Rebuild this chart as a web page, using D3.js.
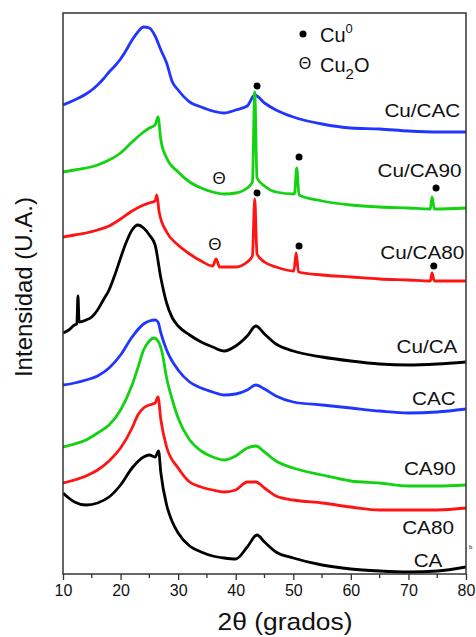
<!DOCTYPE html>
<html lang="es">
<head>
<meta charset="UTF-8">
<title>DRX</title>
<script src="https://cdn.jsdelivr.net/npm/d3@7/dist/d3.min.js"></script>
<style>
  body { margin: 0; background: #fff; }
  text { font-family: "Liberation Sans", Arial, sans-serif; fill: #111; }
</style>
</head>
<body>
<script>
// intensidades (2theta, I en u.a. ya desplazadas)
const cuCAC = [[10,469],[12,474],[14,480],[15,484],[16,489],[17,495],[18,502],[19,508],[20,515],[21,524],[22,534],[23,542],[24,547],[25,546],[26,538],[27,524],[28,511],[29,492],[30,484],[32,472],[34,467],[36,463],[38,461],[40,464],[42,468],[43.3,479],[45,471],[47,464],[50,457],[55,450],[60,446],[65,445],[70,443],[75,442],[80,442]];
const cuCA90 = [[10,402],[12,404],[14,406],[16,409],[18,414],[20,421],[22,432],[24,442],[25,446],[26,449],[26.5,457],[27,434],[28,416],[30,402],[32,392],[34,386],[36,382],[38,380],[40,381],[42,386],[42.9,392],[43.3,482],[43.7,396],[45,388],[47,382],[50.2,380],[50.6,406],[51,379],[55,373],[60,369],[65,367],[70,366],[73.8,365],[74.1,377],[74.5,365],[80,366]];
const cuCA80 = [[10,337],[12,339],[14,341],[16,344],[18,348],[20,355],[22,363],[24,369],[25,371],[26,373],[26.3,379],[26.7,362],[28,342],[30,329],[32,320],[34,313],[36,308],[36.6,315],[37.2,307],[38,307],[40,307],[42,312],[42.9,318],[43.3,375],[43.7,320],[45,312],[47,307],[50.1,303],[50.5,321],[50.9,302],[55,299],[60,297],[65,295],[70,294],[73.8,293],[74.1,301],[74.5,293],[80,293]];
const cuCA = [[10,241],[11,244],[12,249],[12.4,250],[12.6,278],[12.8,252],[14,254],[15,257],[16,264],[17,274],[18,284],[19,299],[20,316],[21,332],[22,344],[23,349],[24,346],[25,339],[26,329],[27,296],[28,271],[29,256],[30,248],[32,239],[34,232],[36,227],[38,223],[40,228],[42,238],[43.5,248],[45,240],[47,230],[50,223],[55,217],[60,213],[65,210],[70,209],[75,210],[80,212]];
const cac = [[10,189],[12,191],[14,194],[16,198],[18,206],[20,219],[22,237],[24,250],[25,253],[26,254],[26.5,252],[27,241],[28,224],[30,204],[32,192],[34,186],[36,182],[38,179],[40,180],[42,184],[43.5,189],[45,185],[47,178],[50,172],[55,169],[60,166],[65,163],[70,161],[75,162],[80,165]];
const ca90 = [[10,127],[12,130],[14,134],[16,141],[18,149],[20,164],[22,189],[23,206],[24,224],[25,233],[25.8,236],[26.5,233],[27.2,222],[28,196],[29,174],[30,156],[32,134],[34,123],[36,117],[38,114],[40,118],[42,126],[43.5,128],[45,122],[47,113],[50,106],[55,99],[60,93],[65,91],[70,88],[75,88],[80,89]];
const ca80 = [[10,91],[12,94],[14,98],[16,104],[18,113],[20,126],[22,146],[23,159],[24,166],[25,169],[26,171],[26.5,177],[27,154],[28,127],[30,106],[32,92],[34,87],[36,84],[38,82],[40,84],[42,92],[43.5,92],[45,86],[47,78],[50,74],[55,71],[60,67],[65,64],[70,64],[75,64],[80,66]];
const ca = [[10,81],[11,76],[12,72],[14,69],[16,71],[18,77],[20,89],[22,106],[24,117],[25,119],[26,117],[26.6,123],[27,101],[28,69],[29,52],[30,41],[32,28],[34,22],[36,18],[38,16],[40,15],[42,27],[43.7,39],[45,32],[47,22],[50,16],[55,9],[60,5],[65,3],[70,2],[75,3],[80,7]];

const names = ["Cu/CAC", "Cu/CA90", "Cu/CA80", "Cu/CA", "CAC", "CA90", "CA80", "CA"];
const colors = ["#2036ff", "#12d212", "#ff1414", "#000000", "#2036ff", "#12d212", "#ff1414", "#000000"];
const series = [cuCAC, cuCA90, cuCA80, cuCA, cac, ca90, ca80, ca];
// posicion de las etiquetas (2theta del borde derecho, I de la linea base)
const labelPos = [[79, 457], [79.2, 397], [79.7, 315], [78.5, 221], [78.2, 169], [78.2, 99], [77.9, 40], [75.9, 7]];

const cuDots = [[43.7, 488], [51.0, 417], [74.8, 386], [43.7, 381], [51.0, 328], [74.4, 308]];
const cu2oMarks = [[37.1, 396], [36.4, 330]];
const xTicks = [10, 20, 30, 40, 50, 60, 70, 80];
const xMinor = [15, 25, 35, 45, 55, 65, 75];

const W = 476, H = 637;
const m = {left: 63, right: 466, top: 13, bottom: 574};

const x = d3.scaleLinear().domain([10, 80]).range([m.left, m.right]);
const y = d3.scaleLinear().domain([0, 561]).range([m.bottom, m.top]);

const svg = d3.select("body").append("svg")
    .attr("width", W)
    .attr("height", H);

const line = d3.line()
    .x(d => x(d[0]))
    .y(d => y(d[1]))
    .curve(d3.curveMonotoneX);

svg.append("clipPath").attr("id", "clip")
    .append("rect")
    .attr("x", m.left).attr("y", m.top)
    .attr("width", m.right - m.left).attr("height", m.bottom - m.top);

svg.append("g")
    .attr("clip-path", "url(#clip)")
    .selectAll("path")
    .data(series)
    .join("path")
    .attr("fill", "none")
    .attr("stroke", (d, i) => colors[i])
    .attr("stroke-width", 2.8)
    .attr("stroke-linejoin", "round")
    .attr("d", line);

// marco
svg.append("rect")
    .attr("x", m.left).attr("y", m.top)
    .attr("width", m.right - m.left).attr("height", m.bottom - m.top)
    .attr("fill", "none")
    .attr("stroke", "#333")
    .attr("stroke-width", 1.5);

// eje x
const gx = svg.append("g").attr("transform", `translate(0,${m.bottom})`);
gx.call(d3.axisBottom(x).tickValues(xTicks).tickSize(6).tickFormat(d3.format("d")));
gx.select(".domain").remove();
gx.selectAll(".tick line").attr("stroke", "#333").attr("stroke-width", 1.3);
gx.selectAll(".tick text")
    .attr("y", 11)
    .style("font-family", "Liberation Sans, Arial, sans-serif")
    .style("font-size", "16px")
    .attr("fill", "#222");
gx.selectAll(".minor")
    .data(xMinor)
    .join("line")
    .attr("class", "minor")
    .attr("x1", d => x(d)).attr("x2", d => x(d))
    .attr("y1", 0).attr("y2", 4)
    .attr("stroke", "#333")
    .attr("stroke-width", 1.3);

svg.append("text")
    .attr("transform", "translate(285,630) scale(1.1,1)")
    .attr("text-anchor", "middle")
    .style("font-size", "24px")
    .text("2θ (grados)");

svg.append("text")
    .attr("transform", "translate(32,287) rotate(-90)")
    .attr("text-anchor", "middle")
    .style("font-size", "24px")
    .text("Intensidad (U.A.)");

// etiquetas de las curvas
svg.append("g")
    .selectAll("text")
    .data(names)
    .join("text")
    .attr("transform", (d, i) => `translate(${x(labelPos[i][0])},${y(labelPos[i][1])}) scale(1.15,1)`)
    .attr("text-anchor", "end")
    .style("font-size", "18px")
    .text(d => d);

// picos Cu0
svg.append("g")
    .selectAll("circle")
    .data(cuDots)
    .join("circle")
    .attr("cx", d => x(d[0]))
    .attr("cy", d => y(d[1]))
    .attr("r", 3.5)
    .attr("fill", "#000");

svg.append("g")
    .selectAll("text")
    .data(cu2oMarks)
    .join("text")
    .attr("x", d => x(d[0]))
    .attr("y", d => y(d[1]))
    .attr("dy", "0.36em")
    .attr("text-anchor", "middle")
    .style("font-size", "17px")
    .text("Θ");

// leyenda
const lg = svg.append("g");
lg.append("circle").attr("cx", 303).attr("cy", 34).attr("r", 3.5).attr("fill", "#000");
const t1 = lg.append("text").attr("x", 320).attr("y", 42).style("font-size", "20px");
t1.append("tspan").text("Cu");
t1.append("tspan").attr("dy", -9).style("font-size", "13px").text("0");
lg.append("text").attr("x", 305).attr("y", 69).attr("text-anchor", "middle").style("font-size", "16px").text("Θ");
const t2 = lg.append("text").attr("x", 320).attr("y", 72).style("font-size", "20px");
t2.append("tspan").text("Cu");
t2.append("tspan").attr("dy", 7).style("font-size", "15px").text("2");
t2.append("tspan").attr("dy", -7).text("O");

svg.append("text")
    .attr("x", 469).attr("y", 549)
    .style("font-size", "6px")
    .text("b");
</script>
</body>
</html>
